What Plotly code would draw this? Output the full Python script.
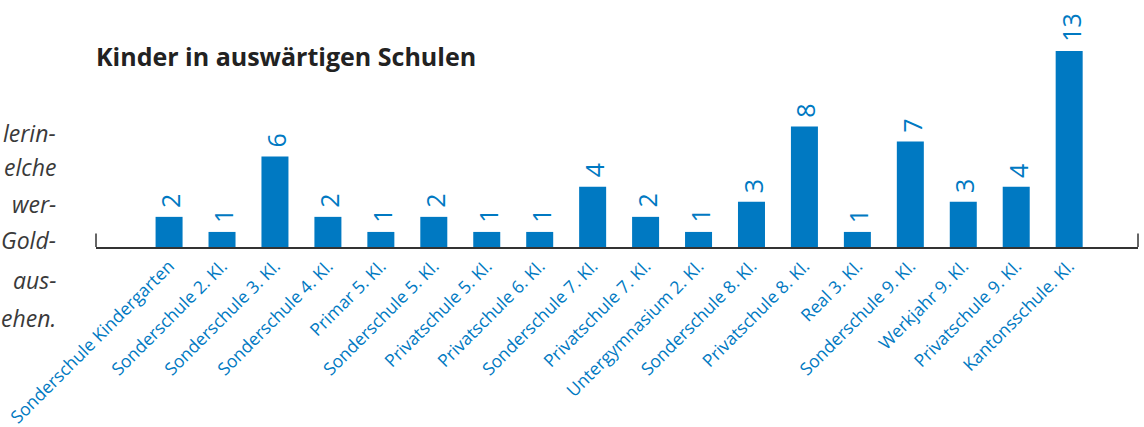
import plotly.graph_objects as go

categories = [
    "Sonderschule Kindergarten", "Sonderschule 2. Kl.", "Sonderschule 3. Kl.",
    "Sonderschule 4. Kl.", "Primar 5. Kl.", "Sonderschule 5. Kl.",
    "Privatschule 5. Kl.", "Privatschule 6. Kl.", "Sonderschule 7. Kl.",
    "Privatschule 7. Kl.", "Untergymnasium 2. Kl.", "Sonderschule 8. Kl.",
    "Privatschule 8. Kl.", "Real 3. Kl.", "Sonderschule 9. Kl.",
    "Werkjahr 9. Kl.", "Privatschule 9. Kl.", "Kantonsschule. Kl.",
]
values = [2, 1, 6, 2, 1, 2, 1, 1, 4, 2, 1, 3, 8, 1, 7, 3, 4, 13]

side_text = ["lerin-", "elche", "wer-", "Gold-", "aus-", "ehen."]

BLUE = "#0079c2"
FONT = "Open Sans"

W, H = 1144, 427
L, R, T, B = 96, 6, 36, 180

xs = list(range(len(categories)))

fig = go.Figure()
fig.add_trace(go.Bar(
    x=xs,
    y=values,
    marker=dict(color=BLUE, line=dict(width=0)),
    cliponaxis=False,
    hoverinfo="skip",
))

# value labels above the bars, rotated
for xi, v in zip(xs, values):
    fig.add_annotation(
        x=xi, y=v, xref="x", yref="y",
        text=str(v), textangle=-90,
        xanchor="center", yanchor="bottom",
        showarrow=False, yshift=7, xshift=1,
        font=dict(family=FONT, size=25, color=BLUE),
    )

fig.update_layout(
    width=W, height=H,
    margin=dict(l=L, r=R, t=T, b=B, autoexpand=False),
    paper_bgcolor="white", plot_bgcolor="white",
    bargap=0.49,
    showlegend=False,
    xaxis=dict(
        range=[-1.38, 18.3],
        tickmode="array",
        tickvals=xs,
        ticktext=categories,
        tickangle=-45,
        tickfont=dict(family=FONT, size=17.5, color=BLUE),
        showline=True, linecolor="#333333", linewidth=2,
        showgrid=False, zeroline=False, ticks="",
        automargin=False,
        fixedrange=True,
    ),
    yaxis=dict(
        range=[0, 14],
        visible=False, showgrid=False, zeroline=False,
        automargin=False,
        fixedrange=True,
    ),
)

# small end ticks on the baseline
for xp in (0, 1):
    fig.add_shape(type="line", xref="paper", yref="y",
                  x0=xp, x1=xp, y0=0, y1=0.9,
                  line=dict(color="#333333", width=1.5))

PH = H - T - B
PW = W - L - R

fig.add_annotation(
    text="<b>Kinder in auswärtigen Schulen</b>",
    xref="paper", yref="paper", x=-2 / PW, y=(247 - 56) / PH,
    xanchor="left", yanchor="middle", showarrow=False,
    font=dict(family=FONT, size=25, color="#222222"),
)

# cropped italic body text at the left edge
ys_px = [133, 167, 204, 240, 280, 318]
for t, ypx in zip(side_text, ys_px):
    fig.add_annotation(
        text=f"<i>{t}</i>",
        xref="paper", yref="paper",
        x=(58 - L) / PW, y=(247 - ypx) / PH,
        xanchor="right", yanchor="middle", showarrow=False,
        font=dict(family=FONT, size=23, color="#3a3a3a"),
    )

fig.write_html("out.html", config={"displayModeBar": False},
               post_script="document.body.style.margin='0';")
